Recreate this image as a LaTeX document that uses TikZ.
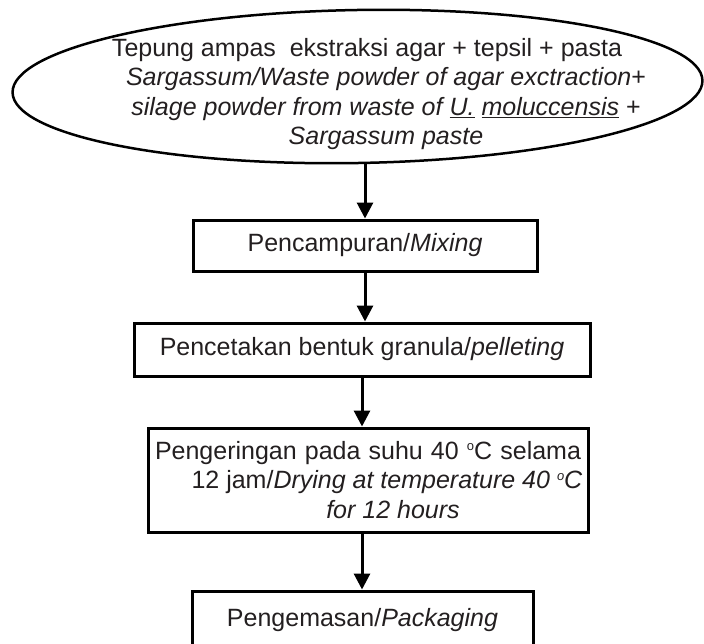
\documentclass[tikz,border=0pt]{standalone}
\usepackage{fontspec}
\setmainfont{Liberation Sans}
\usetikzlibrary{arrows.meta,shapes.geometric}
\definecolor{inkgray}{RGB}{35,31,32}
\newcommand{\degsign}{\raisebox{8.5pt}{\fontsize{13}{13}\selectfont o}}
\tikzset{
	stepbox/.style={draw, line width=3pt, text=inkgray, inner sep=0pt},
	flow/.style={-{Triangle[width=16pt,length=16pt]}, line width=3pt},
}
\begin{document}
\begin{tikzpicture}[x=1pt, y=-1pt, font=\fontsize{25}{29.5}\selectfont]
	\useasboundingbox (0,0) rectangle (704,643);
	\node[ellipse, draw, line width=2.5pt, minimum width=690pt, minimum height=153pt, inner sep=0pt, rotate=1] (raw) at (357.5,86.5) {};
	\node[text=inkgray, align=center, inner sep=0pt] (rawtext) at (386,94) {Tepung ampas\ \ ekstraksi agar + tepsil + pasta\hspace*{38pt}\\ \textit{Sargassum/Waste powder of agar exctraction}+\\ \textit{silage powder from waste of \underline{U.} \underline{moluccensis}} +\\ \textit{Sargassum paste}};
	\node[stepbox, minimum width=344pt, minimum height=51pt] (mix) at (365,245.5) {Pencampuran/\textit{Mixing}};
	\node[stepbox, minimum width=456pt, minimum height=53pt] (pellet) at (362,349.5) {Pencetakan bentuk granula/\textit{pelleting}};
	\node[stepbox, minimum width=440pt, minimum height=104pt, align=center] (dry) at (368,480) {\makebox[426pt][s]{Pengeringan pada suhu 40 \degsign C selama}\\ \hspace*{38pt}12 jam/\textit{Drying at temperature 40 \degsign C}\\ \hspace*{50pt}\textit{for 12 hours}};
	\node[stepbox, minimum width=341pt, minimum height=58pt] (pack) at (362.5,620) {Pengemasan/\textit{Packaging}};
	\draw[flow] (raw.south -| mix.north) -- (mix.north);
	\draw[flow] (mix.south) -- (mix.south |- pellet.north);
	\draw[flow] (pellet.south) -- (pellet.south |- dry.north);
	\draw[flow] (pellet.south |- dry.south) -- (pellet.south |- pack.north);
\end{tikzpicture}
\end{document}
